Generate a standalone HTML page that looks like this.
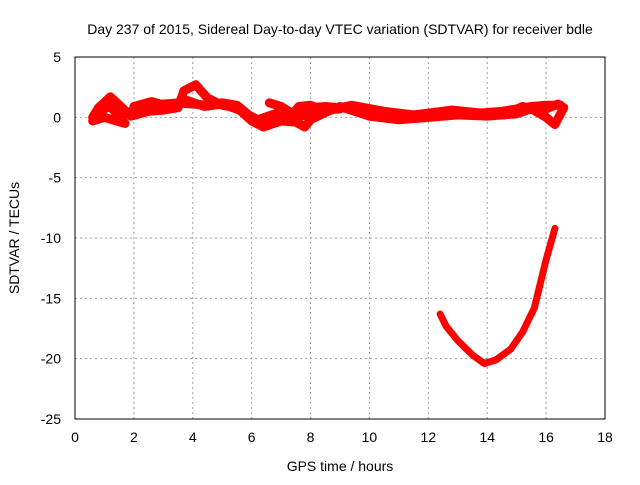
<!DOCTYPE html>
<html><head><meta charset="utf-8"><style>
body{margin:0;background:#fff;}
text{font-family:"Liberation Sans",sans-serif;font-size:14px;fill:#000;}
</style></head><body>
<svg id="chart" width="640" height="480" viewBox="0 0 640 480" xmlns="http://www.w3.org/2000/svg">
<text x="340" y="34" text-anchor="middle">Day 237 of 2015, Sidereal Day-to-day VTEC variation (SDTVAR) for receiver bdle</text>
<g id="grid"></g>
<g id="ticks"></g>
<g id="series"></g>
<rect x="75" y="57" width="530" height="362" fill="none" stroke="#000" stroke-width="1"/>
<text x="340" y="471" text-anchor="middle">GPS time / hours</text>
<text x="0" y="0" text-anchor="middle" transform="translate(19,238) rotate(-90)">SDTVAR / TECUs</text>
</svg>
<script>
const xTicks=[0,2,4,6,8,10,12,14,16,18];
const yTicks=[5,0,-5,-10,-15,-20,-25];
const s1=[[0.6,0],[0.8,0.8],[1.2,1.7],[1.6,0.8],[1.8,0.3]];
const s1b=[[0.6,-0.3],[1.0,0],[1.4,-0.3],[1.7,-0.5],[1.2,0.9],[0.7,0.4]];
const s2=[[1.9,0.5],[2.5,1.0],[3,1.1],[3.5,1.2],[4,1.1],[4.5,1.0],[5,1.2],[5.5,1.0],[6,0],[6.5,-0.5],[7,0],[7.5,0.3],[8,0.8],[8.5,0.9],[9,0.8],[9.5,0.9],[10,0.4],[10.5,0.2],[11,-0.1],[11.5,0.0],[12,0.1],[12.5,0.3],[13,0.5],[13.5,0.3],[14,0.4],[14.5,0.5],[15,0.7],[15.5,0.9],[16,1.0],[16.5,1.0]];
const s3=[[1.9,0.1],[2.5,0.5],[3,0.6],[3.5,0.8],[3.7,2.2],[4.1,2.7],[4.5,1.6],[5,1.0],[5.5,0.8],[6,-0.3],[6.4,-0.8],[7,-0.3],[7.5,-0.4],[7.8,-0.8],[8,-0.2],[8.5,0.4],[9,0.9],[9.5,0.5],[10,0.1],[11,-0.2],[12,0.0],[13,0.2],[14,0.1],[15,0.3],[15.5,0.7],[16,0],[16.3,-0.6],[16.6,0.8]];
const s4=[[6.6,1.2],[7,0.9],[7.4,0.3],[7.6,0.9],[8,1.0],[8.4,0.6],[9,0.7]];
const s6=[[2,0.9],[2.6,1.3],[3.2,0.9],[3.8,1.4],[4.4,0.9],[5,1.1],[5.6,0.6],[6.2,-0.2],[6.8,0.3],[7.2,-0.2],[8,0.3],[9.4,1.0],[10.5,0.5],[11.5,0.2],[12.8,0.6],[13.6,0.4],[14.6,0.2],[15.2,0.9],[15.8,0.5],[16.4,1.1]];
const s5=[[12.4,-16.3],[12.6,-17.3],[13,-18.5],[13.5,-19.7],[13.9,-20.4],[14.3,-20.1],[14.8,-19.2],[15.2,-17.8],[15.6,-15.8],[15.8,-13.8],[16,-11.8],[16.3,-9.2]];
const topSeries=[s1,s1b,s2,s3,s4,s6];
const bottomSeries=[s5];
const X=v=>75+v*(530/18);
const Y=v=>57+(5-v)*(362/30);
const NS="http://www.w3.org/2000/svg";
const grid=document.getElementById('grid'),ticks=document.getElementById('ticks'),ser=document.getElementById('series');
function mk(tag,attrs,parent){const e=document.createElementNS(NS,tag);for(const k in attrs)e.setAttribute(k,attrs[k]);parent.appendChild(e);return e;}
xTicks.forEach(t=>{
  if(t>0&&t<18){const g=mk('line',{x1:X(t),x2:X(t),y1:57,y2:419,stroke:'#a0a0a0','stroke-dasharray':'2,3'},grid);
  
  }
  const l=mk('text',{x:X(t),y:442,'text-anchor':'middle'},ticks);l.textContent=t;
  
  
});
yTicks.forEach(t=>{
  if(t>-25&&t<5){const g=mk('line',{x1:75,x2:605,y1:Y(t),y2:Y(t),stroke:'#a0a0a0','stroke-dasharray':'2,3'},grid);
  
  }
  const l=mk('text',{x:61,y:Y(t)+5,'text-anchor':'end'},ticks);l.textContent=t;
  
  
});
topSeries.forEach(s=>{
  const p=mk('polyline',{points:s.map(d=>X(d[0])+','+Y(d[1])).join(' '),fill:'none',stroke:'#ff0000','stroke-width':9,'stroke-linejoin':'round','stroke-linecap':'round'},ser);
  
  
});
bottomSeries.forEach(s=>{
  const p=mk('polyline',{points:s.map(d=>X(d[0])+','+Y(d[1])).join(' '),fill:'none',stroke:'#ff0000','stroke-width':7,'stroke-linejoin':'round','stroke-linecap':'round'},ser);
  
  
});
</script>
</body></html>
